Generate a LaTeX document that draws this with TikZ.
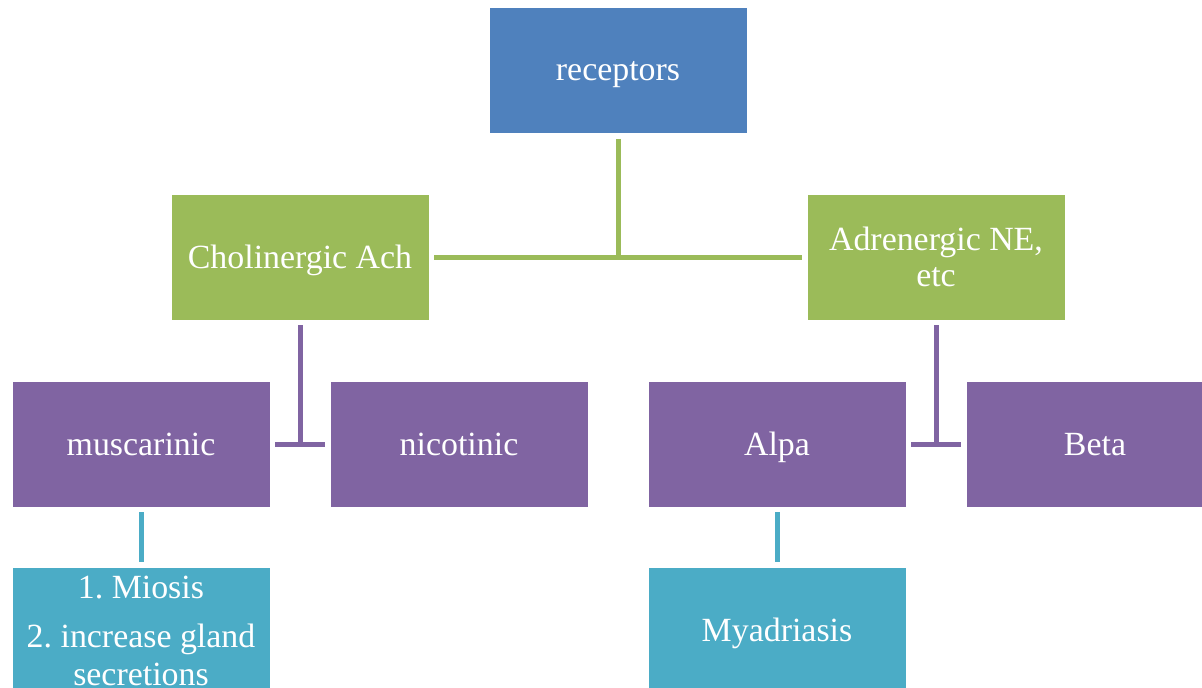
\documentclass[tikz,border=0pt]{standalone}
\usepackage{fontspec}
\setmainfont{Liberation Serif}
\frenchspacing
\definecolor{cblue}{HTML}{4F81BD}
\definecolor{cgreen}{HTML}{9BBB59}
\definecolor{cpurple}{HTML}{8064A2}
\definecolor{cteal}{HTML}{4BACC6}
\tikzset{
  box/.style={fill=#1, draw=white, line width=0.8bp, minimum width=258bp, minimum height=126bp,
    inner sep=0pt, text=white, font=\fontsize{34}{40}\selectfont\frenchspacing, align=center, text depth=0pt},
  conn/.style={draw=#1, line width=5bp},
  txt/.style={text=white, font=\fontsize{34}{38}\selectfont\frenchspacing, align=center, inner sep=0pt}
}
\begin{document}
\begin{tikzpicture}[x=1bp,y=-1bp]
\clip (0,0) rectangle (1202,688);
\fill[white] (0,0) rectangle (1202,688);
\node[box=cblue] (rec) at (618,70.5) {receptors};
\node[box=cgreen] (chol) at (300,257) {Cholinergic Ach};
\node[box=cgreen] (adr) at (936,257) {Adrenergic NE,\\[-4bp]etc};
\node[box=cpurple] (mus) at (141,444) {muscarinic};
\node[box=cpurple] (nic) at (459,444) {nicotinic};
\node[box=cpurple] (alp) at (777,444) {Alpa};
\node[box=cpurple] (bet) at (1095,444) {Beta};
\node[box=cteal] (mio) at (141,630) {};
\node[txt, anchor=base] (miotxt) at (141,685) {1. Miosis\\[11bp]2. increase gland\\secretions};
\node[box=cteal] (mya) at (777,630) {Myadriasis};
% green connectors
\coordinate (gj) at (rec.south |- chol.east);
\draw[conn=cgreen, shorten >=5bp, shorten <=5bp] (chol.east) -- (adr.west);
\draw[conn=cgreen, shorten <=5bp] (rec.south) -- ([yshift=-1bp]gj);
% purple connectors
\coordinate (pj1) at (chol.south |- mus.east);
\draw[conn=cpurple, shorten >=5bp, shorten <=5bp] (mus.east) -- (nic.west);
\draw[conn=cpurple, shorten <=5bp] (chol.south) -- (pj1);
\coordinate (pj2) at (adr.south |- alp.east);
\draw[conn=cpurple, shorten >=5bp, shorten <=5bp] (alp.east) -- (bet.west);
\draw[conn=cpurple, shorten <=5bp] (adr.south) -- (pj2);
% teal connectors
\draw[conn=cteal, shorten >=5bp, shorten <=5bp] (mus.south) -- (mio.north);
\draw[conn=cteal, shorten >=5bp, shorten <=5bp] (alp.south) -- (mya.north);
\end{tikzpicture}
\end{document}
